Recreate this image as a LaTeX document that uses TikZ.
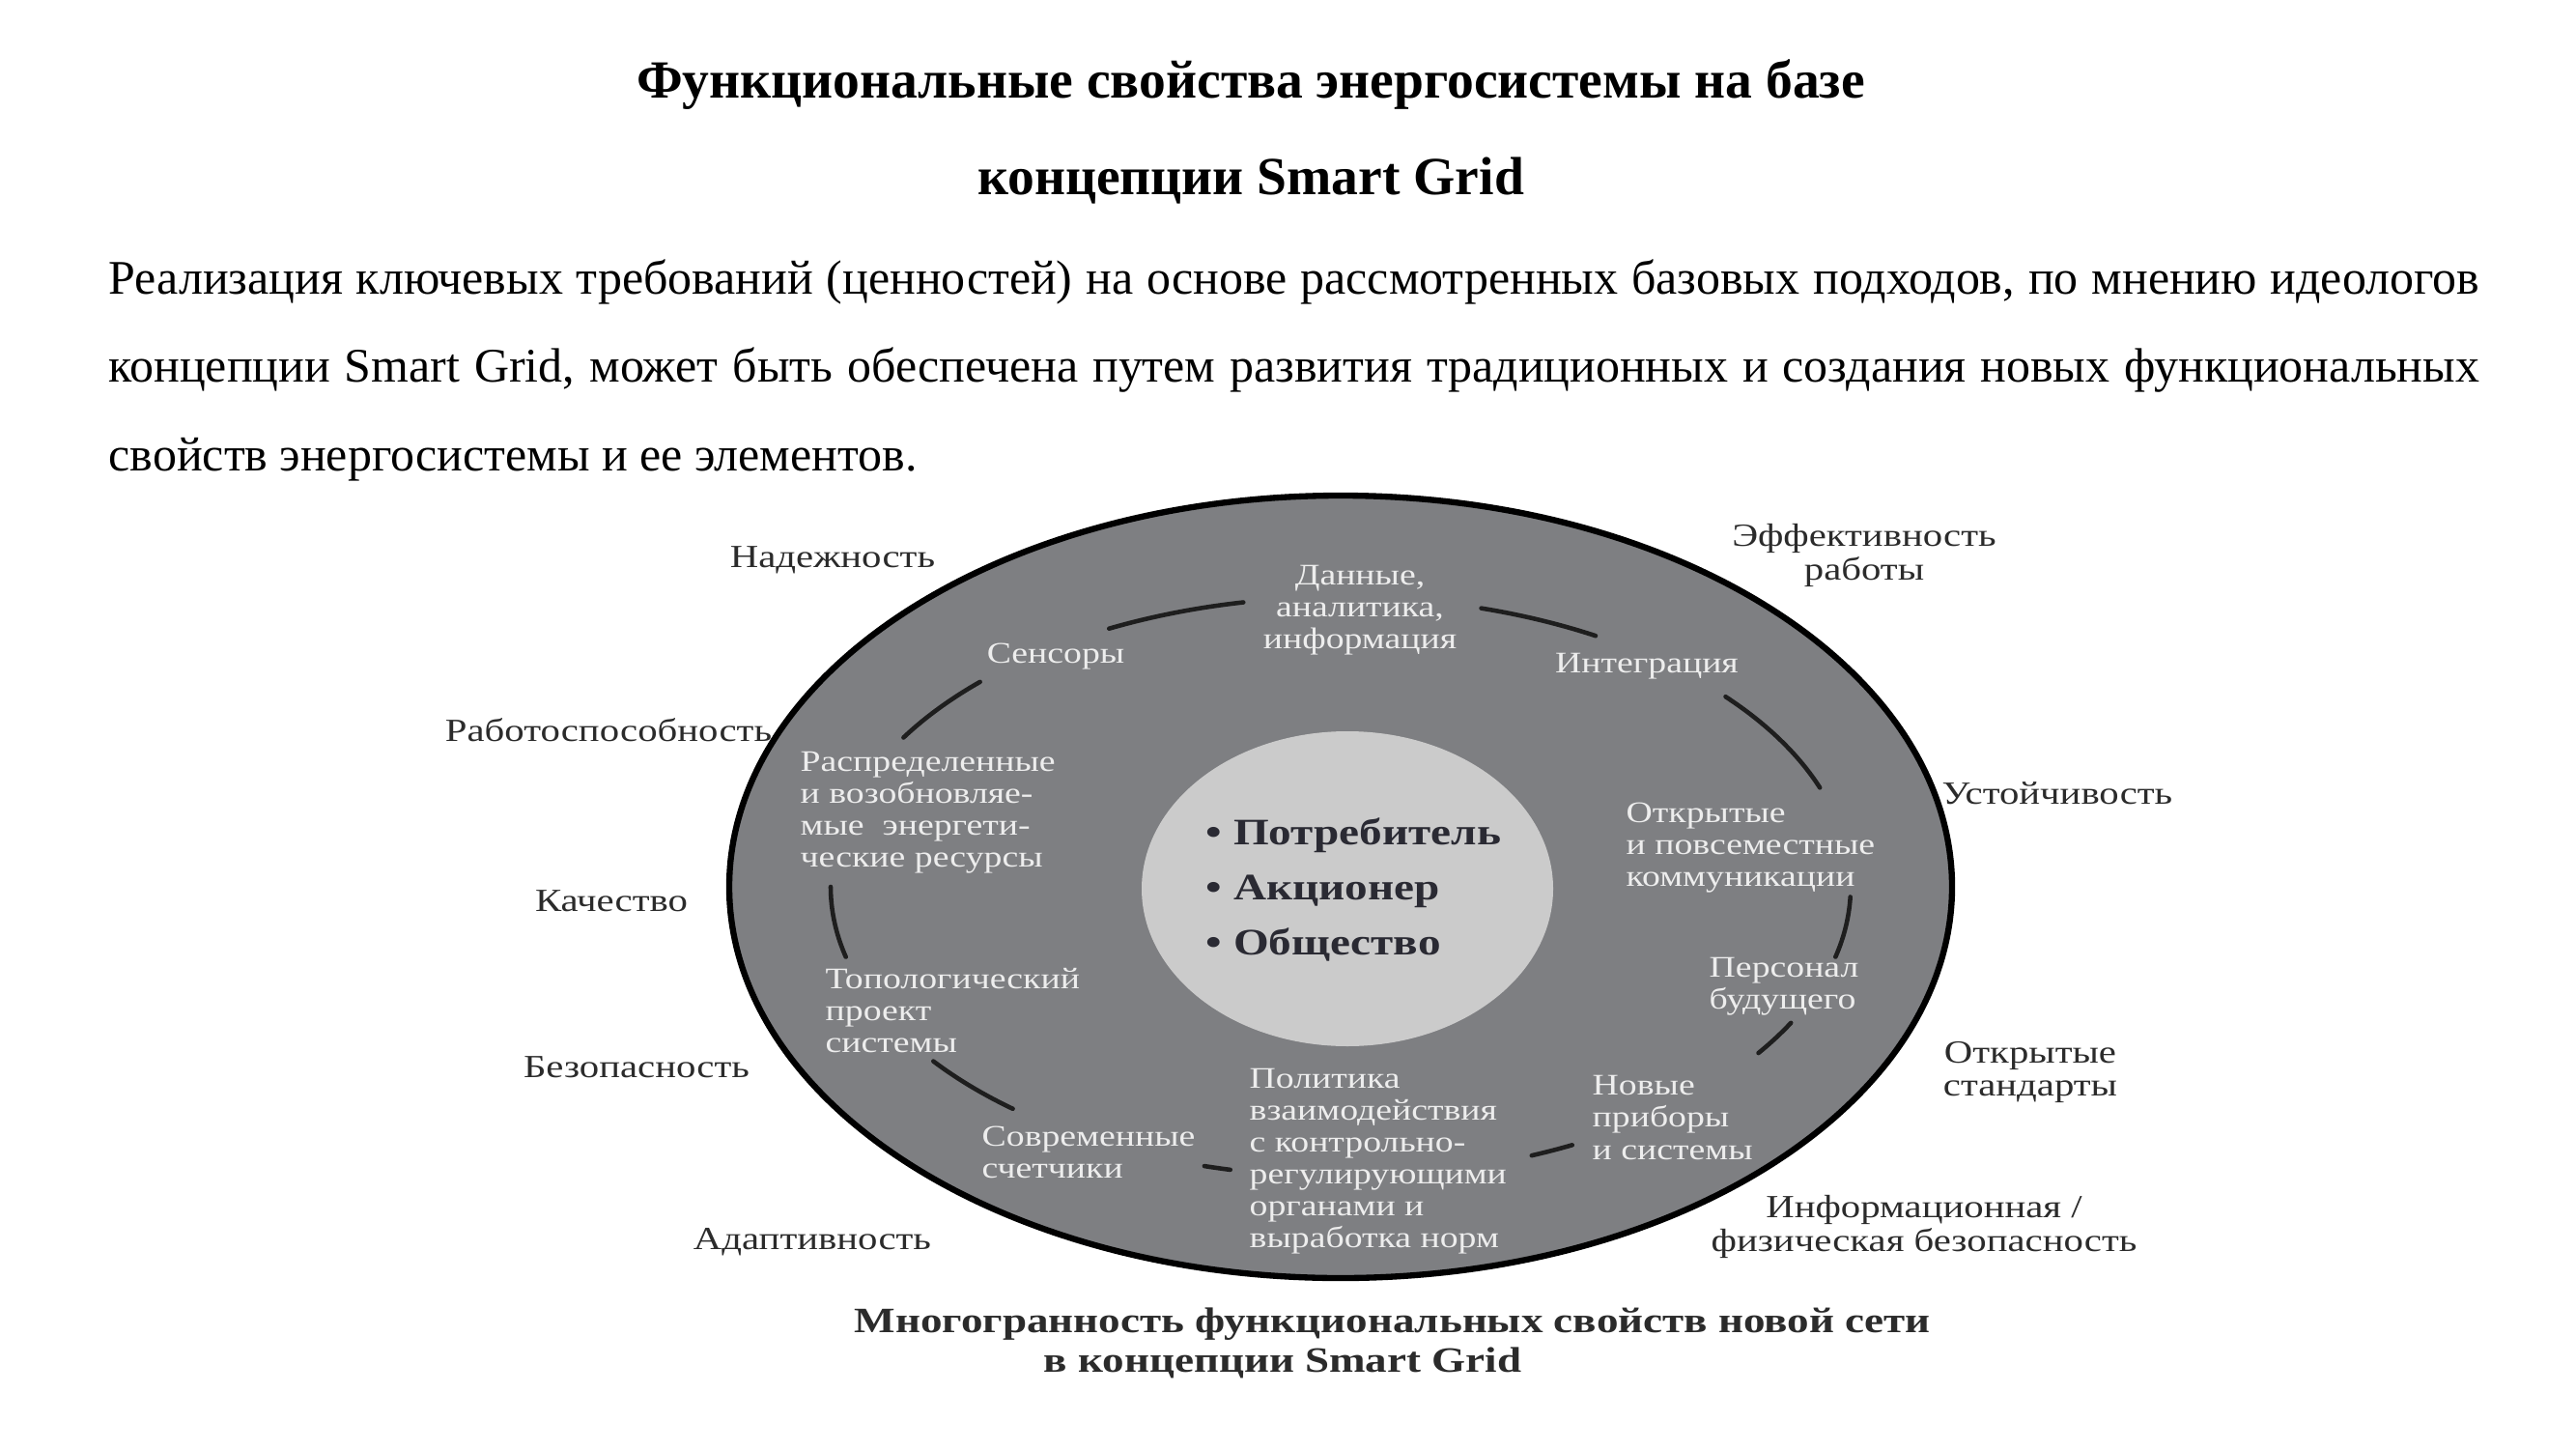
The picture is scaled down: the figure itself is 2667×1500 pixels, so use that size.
\documentclass[tikz,border=0pt]{standalone}
\usepackage{fontspec}
\setmainfont{Liberation Serif}
\newfontfamily\diagfont{Liberation Serif}[FakeStretch=1.22]
\usepackage{tikz}
\definecolor{ringgray}{HTML}{7E7F82}
\definecolor{coregray}{HTML}{CBCBCB}
\definecolor{dashcol}{HTML}{1E1E1E}
\definecolor{ringtext}{HTML}{EDEDED}
\definecolor{proptext}{HTML}{2B2B2B}
\definecolor{coretext}{HTML}{2A2A33}

\tikzset{
  heading/.style={anchor=north, inner sep=0pt, align=center,
    font=\bfseries\fontsize{15.8}{28.4}\selectfont},
  bodytext/.style={anchor=north west, inner sep=0pt, text width=24.53cm,
    align=justify, font=\fontsize{14.2}{26}\selectfont},
  rimline/.style={draw=black, line width=1.8pt, fill=ringgray},
  ringdash/.style={draw=dashcol, line width=1.3pt, line cap=round},
  prop/.style={inner sep=0pt, align=center, text=proptext,
    font=\diagfont\fontsize{9.5}{9.8}\selectfont},
  ringlabel/.style={inner sep=0pt, align=left, text=ringtext,
    font=\diagfont\fontsize{8.8}{9.4}\selectfont},
  corelabel/.style={anchor=west, inner sep=0pt, align=left, text=coretext,
    font=\diagfont\bfseries\fontsize{11}{16.2}\selectfont},
  capt/.style={anchor=north west, inner sep=0pt, align=left, text=proptext,
    font=\diagfont\bfseries\fontsize{10.5}{11.7}\selectfont}
}

\begin{document}
\begin{tikzpicture}[x=0.01cm, y=-0.01cm]
  \useasboundingbox (0,0) rectangle (2667,1500);

  % Заголовок и вводный текст
  \node[heading] (title) at (1295,61)
    {Функциональные свойства энергосистемы на базе\\концепции Smart Grid};
  \node[bodytext] (intro) at (112,268)
    {Реализация ключевых требований (ценностей) на основе рассмотренных базовых подходов, по мнению идеологов\linebreak
     концепции Smart Grid, может быть обеспечена путем развития традиционных и создания новых функциональных\linebreak
     свойств энергосистемы и ее элементов.};

  % Внешний эллипс и ядро
  \coordinate (O) at (1388,918);
  \draw[rimline] (O) ellipse[x radius=633, y radius=405];
  \fill[coregray] (1395,920) ellipse[x radius=213, y radius=163];

  % Пунктирное кольцо
  \foreach \a/\b in {-117/-101, -74/-60, -41/-20, 2/14, 28/35,
                     63/68, 102.5/105.5, 130/143, 166/180, 211/225}
    \draw[ringdash] (O) ++(\a:528 and 300)
      arc[start angle=\a, end angle=\b, x radius=528, y radius=300];

  % Ядро
  \node[corelabel] (core) at (1248,921)
    {• Потребитель\\• Акционер\\• Общество};

  % Подписи на кольце
  \node[ringlabel, align=center] (data) at (1408,632) {Данные,\\аналитика,\\информация};
  \node[ringlabel] (sensors) at (1093,680) {Сенсоры};
  \node[ringlabel] (integr) at (1705,690) {Интеграция};
  \node[ringlabel, anchor=west] (distr) at (828,841)
    {Распределенные\\и возобновляе-\\мые~ энергети-\\ческие ресурсы};
  \node[ringlabel, anchor=west] (comm) at (1683,878)
    {Открытые\\и повсеместные\\коммуникации};
  \node[ringlabel, anchor=west] (topo) at (854,1046)
    {Топологический\\проект\\системы};
  \node[ringlabel, anchor=west] (staff) at (1769,1021) {Персонал\\будущего};
  \node[ringlabel, anchor=west] (policy) at (1293,1202)
    {Политика\\взаимодействия\\с контрольно-\\регулирующими\\органами и\\выработка норм};
  \node[ringlabel, anchor=west] (devices) at (1648,1157) {Новые\\приборы\\и системы};
  \node[ringlabel, anchor=west] (meters) at (1016,1193) {Современные\\счетчики};

  % Свойства вокруг
  \node[prop] (reliab) at (862,580) {Надежность};
  \node[prop] (effic) at (1930,575) {Эффективность\\работы};
  \node[prop] (operab) at (630,756) {Работоспособность};
  \node[prop] (sustain) at (2130,821) {Устойчивость};
  \node[prop] (quality) at (633,933) {Качество};
  \node[prop] (safety) at (659,1105) {Безопасность};
  \node[prop] (openstd) at (2102,1110) {Открытые\\стандарты};
  \node[prop] (adapt) at (841,1286) {Адаптивность};
  \node[prop] (infosec) at (1992,1270) {Информационная /\\физическая безопасность};

  % Подпись рисунка
  \node[capt] (cap) at (884,1353)
    {Многогранность функциональных свойств новой сети\\\hspace*{1.96cm}в концепции Smart Grid};
\end{tikzpicture}
\end{document}
